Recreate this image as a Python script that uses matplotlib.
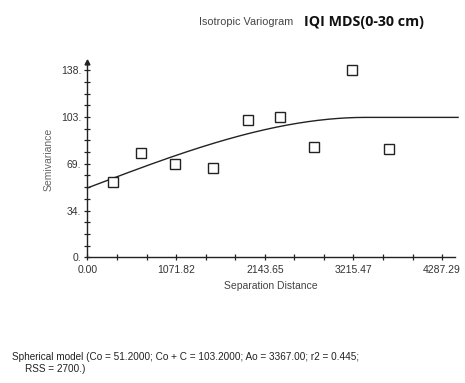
import numpy as np
import matplotlib
matplotlib.use("Agg")
import matplotlib.pyplot as plt
from matplotlib.ticker import MultipleLocator

# Data
lag_distance = [314, 649, 1060, 1519, 1938, 2329, 2743, 3195, 3649]
semivariance = [55.2, 76.9, 69.2, 65.8, 101.6, 103.3, 81.6, 137.8, 79.9]

# Spherical model parameters (as printed under the chart)
nugget = 51.2
sill = 103.2
model_range = 3367.0

x_ticks = [0.00, 1071.82, 2143.65, 3215.47, 4287.29]
x_tick_labels = ["0.00", "1071.82", "2143.65", "3215.47", "4287.29"]
y_ticks = [0, 34.5, 69, 103.5, 138]
y_tick_labels = ["0.", "34.", "69.", "103.", "138."]

FONT = ["Liberation Sans Narrow", "Liberation Sans", "DejaVu Sans"]
plt.rcParams["font.family"] = FONT

fig = plt.figure(figsize=(4.65, 3.83), dpi=100)
ax = fig.add_axes([0.188, 0.328, 0.79, 0.51])

# model curve
h = np.linspace(0, 4480, 400)
hr = np.clip(h / model_range, 0, 1)
gamma = nugget + (sill - nugget) * (1.5 * hr - 0.5 * hr ** 3)
ax.plot(h, gamma, color="#222222", linewidth=1.0, clip_on=False)

ax.plot(lag_distance, semivariance, linestyle="none", marker="s", markersize=7,
        markerfacecolor="white", markeredgecolor="#222222", markeredgewidth=1.0)

ax.set_xlim(0, 4440)
ax.set_ylim(0, 144)

for side in ("top", "right"):
    ax.spines[side].set_visible(False)
for side in ("left", "bottom"):
    ax.spines[side].set_color("#222222")
    ax.spines[side].set_linewidth(1.0)

ax.set_xticks(x_ticks)
ax.set_xticklabels(x_tick_labels)
ax.set_yticks(y_ticks)
ax.set_yticklabels(y_tick_labels)
ax.xaxis.set_minor_locator(MultipleLocator(1071.82 / 3))
ax.yaxis.set_minor_locator(MultipleLocator(34.5 / 4))
ax.tick_params(which="both", direction="inout", length=5, width=0.9,
               color="#222222", labelsize=7.5, labelcolor="#333333", pad=2)
ax.tick_params(axis="x", which="major", pad=3)

# arrow on top of y axis
ax.plot([0], [144], marker="^", markersize=3.5, color="#222222", clip_on=False)

ax.set_xlabel("Separation Distance", fontsize=7.5, color="#444444", labelpad=4)
ax.set_ylabel("Semivariance", fontsize=7.5, color="#666666", labelpad=5)

fig.text(0.428, 0.942, "Isotropic Variogram", fontsize=7.8, color="#444444",
         va="center", ha="left")
fig.text(0.654, 0.942, "IQI MDS(0-30 cm)", fontsize=10.3, fontweight="bold",
         color="#111111", va="center", ha="left", family=["Open Sans", "DejaVu Sans"])

fig.text(0.026, 0.068,
         "Spherical model (Co = 51.2000; Co + C = 103.2000; Ao = 3367.00; r2 = 0.445;",
         fontsize=7.2, color="#222222", va="center", ha="left")
fig.text(0.054, 0.036, "RSS = 2700.)", fontsize=7.2, color="#222222",
         va="center", ha="left")

fig.savefig("out.png", dpi=100)
